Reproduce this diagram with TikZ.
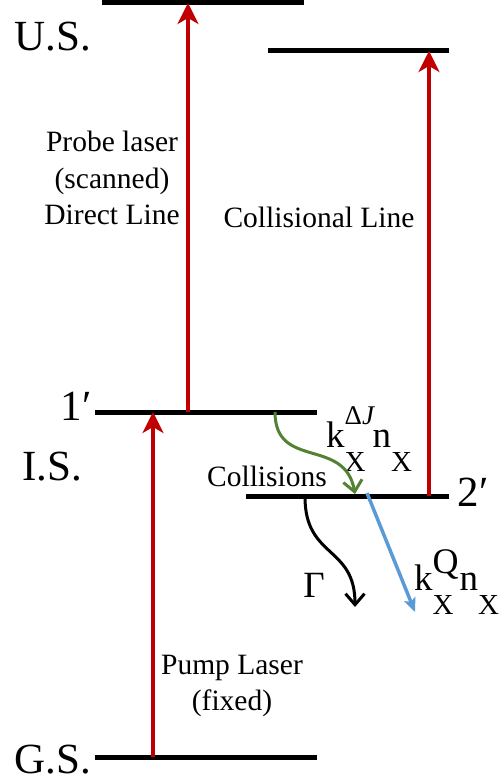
\documentclass[tikz,border=0pt]{standalone}
\usepackage{fontspec}
\setmainfont{Liberation Serif}
\usepackage{xcolor}
\usetikzlibrary{arrows.meta}

\definecolor{laserred}{HTML}{C00000}
\definecolor{collgreen}{HTML}{548235}
\definecolor{quenchblue}{HTML}{5B9BD5}

\newcommand{\subX}{\raisebox{-24pt}{\fontsize{29}{29}\selectfont X}}
\newcommand{\supR}[3]{\rlap{\raisebox{#1}{\fontsize{#2}{#2}\selectfont #3}}}

\begin{document}
\begin{tikzpicture}[x=1pt, y=-1pt,
    level/.style={line width=5pt},
    laser/.style={laserred, line width=3.5pt, -{Stealth[length=21pt, width=21pt, inset=6pt]}},
    decay/.style={line width=3pt, -{Straight Barb[length=11pt, width=19pt, line width=3pt]}},
    big/.style={font=\fontsize{43}{50}\selectfont, inner sep=0pt},
    txt/.style={font=\fontsize{29.5}{36.5}\selectfont, align=center, inner sep=0pt},
    rate/.style={font=\fontsize{37}{40}\selectfont, inner sep=0pt, anchor=base west}]
    \useasboundingbox (0,0) rectangle (501,784);

    \draw[level] (102,3) -- (304,3);
    \draw[level] (268,51) -- (449,51);
    \draw[level] (95,412) -- (317,412);
    \draw[level] (246,496) -- (449,496);
    \draw[level] (95,757) -- (317,757);

    \coordinate (gsPump) at (153,757);
    \coordinate (isPump) at (153,412);
    \coordinate (isProbe) at (188,412);
    \coordinate (usProbe) at (188,3);
    \coordinate (isColl) at (429,496);
    \coordinate (usColl) at (429,51);
    \coordinate (oneOut) at (275,412);
    \coordinate (twoIn) at (355,494);
    \coordinate (twoOut) at (305,497);
    \coordinate (gammaEnd) at (355,607);
    \coordinate (quenchOut) at (367,493);
    \coordinate (quenchEnd) at (415,612);

    \node[big] (us) at (53,37) {U.S.};
    \node[big] (is) at (52,467) {I.S.};
    \node[big] (gs) at (53,760) {G.S.};
    \node[big] (one) at (76,406) {1′};
    \node[big] (two) at (473,492) {2′};

    \node[txt] (probe) at (112,178) {Probe laser\\(scanned)\\Direct Line};
    \node[txt] (colline) at (319,217) {Collisional Line};
    \node[txt] (pump) at (232,686) {Pump Laser\\(fixed)};
    \node[txt] (coll) at (267,476) {Collisions};
    \node[rate] (kdj) at (326,447) {k\supR{23pt}{27}{Δ\textit{J}}\subX\hspace{7pt}n\subX};
    \node[rate, anchor=center] (gamma) at (314,585) {Γ};
    \node[rate] (kq) at (414,590) {k\supR{17pt}{36}{Q}\subX\hspace{6pt}n\subX};

    \draw[laser] (gsPump) -- (isPump);
    \draw[laser] (isProbe) -- (usProbe);
    \draw[laser] (isColl) -- (usColl);
    \draw[decay, collgreen] (oneOut) to[out=-90, in=100, looseness=1.3] (twoIn);
    \draw[decay] (twoOut) to[out=-90, in=90, looseness=1.3] (gammaEnd);
    \draw[quenchblue, line width=3.5pt, -{Stealth[length=14pt, width=12pt, inset=3pt]}] (quenchOut) -- (quenchEnd);
\end{tikzpicture}
\end{document}
